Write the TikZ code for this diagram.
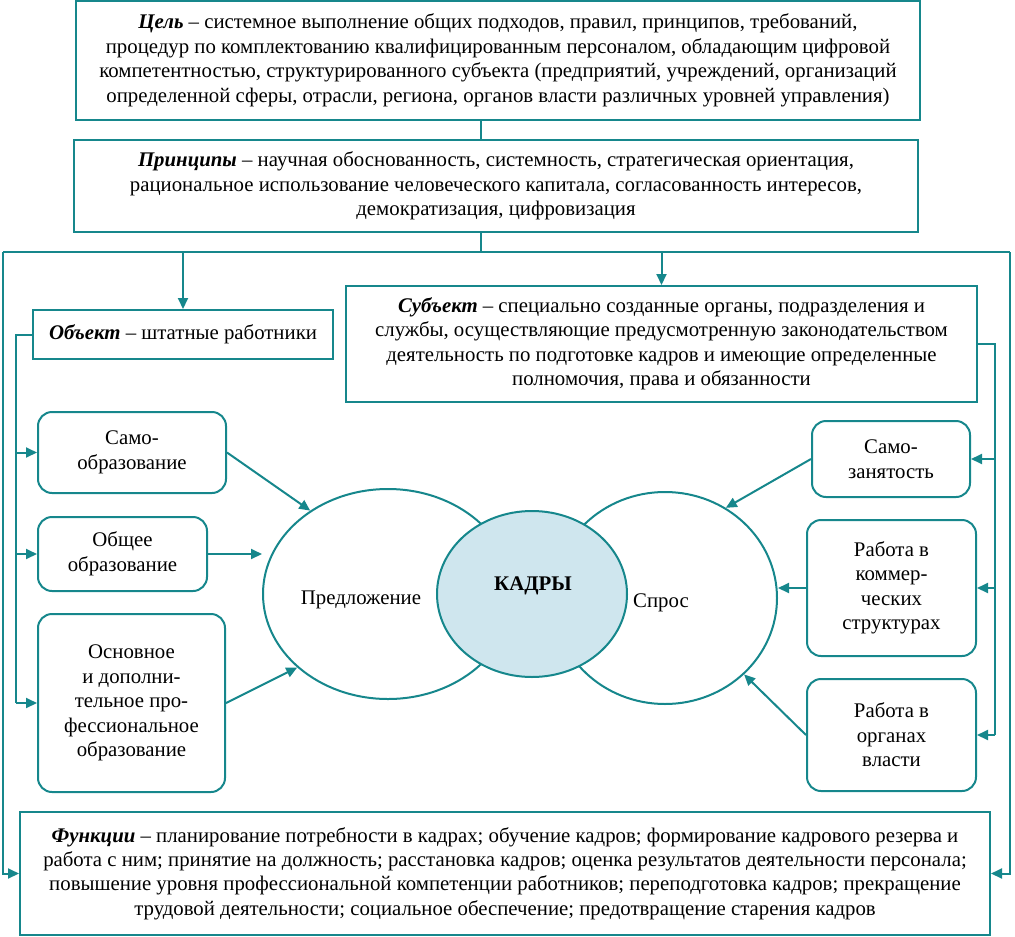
\documentclass[tikz,border=0pt]{standalone}
\usepackage{fontspec}
\setmainfont{Liberation Serif}
\usetikzlibrary{arrows.meta,shapes.geometric}
\definecolor{teal1}{RGB}{22,135,140}
\definecolor{kfill}{RGB}{207,230,238}
\begin{document}
\begin{tikzpicture}[x=1pt,y=-1pt,
 box/.style={draw=teal1,line width=2pt,rectangle,align=center,inner sep=0pt,font=\fontsize{20.8}{24.5}\selectfont},
 rbox/.style={box,rounded corners=14pt},
 ell/.style={draw=teal1,line width=2pt,ellipse,inner sep=0pt},
 conn/.style={draw=teal1,line width=2pt},
 arr/.style={conn,-{Triangle[length=11pt,width=10pt]}},
 lbl/.style={font=\fontsize{20.8}{24.5}\selectfont,inner sep=0pt}]
\useasboundingbox (0,0) rectangle (1015,937);

\node[box,minimum width=844pt,minimum height=119pt] (goal) at (498,60.5)
 {\textbf{\textit{Цель}} – системное выполнение общих подходов, правил, принципов, требований,\\
  процедур по комплектованию квалифицированным персоналом, обладающим цифровой\\
  компетентностью, структурированного субъекта (предприятий, учреждений, организаций\\
  определенной сферы, отрасли, региона, органов власти различных уровней управления)};
\node[box,minimum width=844pt,minimum height=92pt] (princ) at (496,186)
 {\textbf{\textit{Принципы}} – научная обоснованность, системность, стратегическая ориентация,\\
  рациональное использование человеческого капитала, согласованность интересов,\\
  демократизация, цифровизация};
\node[box,minimum width=300pt,minimum height=49pt] (obj) at (183,334.5)
 {\textbf{\textit{Объект}} – штатные работники};
\node[box,minimum width=631pt,minimum height=116pt] (subj) at (661.5,344)
 {\textbf{\textit{Субъект}} – специально созданные органы, подразделения и\\
  службы, осуществляющие предусмотренную законодательством\\
  деятельность по подготовке кадров и имеющие определенные\\
  полномочия, права и обязанности};
\node[rbox,minimum width=188pt,minimum height=81pt] (selfedu) at (132,452.5) {Само-\\образование};
\node[rbox,minimum width=169pt,minimum height=74pt] (genedu) at (122.5,554) {Общее\\образование};
\node[rbox,minimum width=187pt,minimum height=178pt] (profedu) at (131.5,703)
 {Основное\\и дополни-\\тельное про-\\фессиональное\\образование};
\node[rbox,minimum width=158pt,minimum height=76pt] (selfemp) at (891,459) {Само-\\занятость};
\node[rbox,minimum width=169pt,minimum height=136pt] (comm) at (891.5,588) {Работа в\\коммер-\\ческих\\структурах};
\node[rbox,minimum width=169pt,minimum height=112pt] (gov) at (891.5,735) {Работа в\\органах\\власти};
\node[box,minimum width=970pt,minimum height=123pt,font=\fontsize{20.8}{24.2}\selectfont] (func) at (505,873.5)
 {\textbf{\textit{Функции}} – планирование потребности в кадрах; обучение кадров; формирование кадрового резерва и\\
  работа с ним; принятие на должность; расстановка кадров; оценка результатов деятельности персонала;\\
  повышение уровня профессиональной компетенции работников; переподготовка кадров; прекращение\\
  трудовой деятельности; социальное обеспечение; предотвращение старения кадров};

\node[ell,fill=white,minimum width=250pt,minimum height=210pt] (sup) at (388,594) {};
\node[ell,fill=white,minimum width=224pt,minimum height=212pt] (dem) at (665,598) {};
\node[ell,fill=kfill,minimum width=190pt,minimum height=166pt] (kadry) at (532,594) {};
\node[lbl] (suptxt) at (361,600) {Предложение};
\node[lbl] (demtxt) at (661,603) {Спрос};
\node[lbl,font=\fontsize{20.8}{24.5}\selectfont\bfseries] (kadrytxt) at (533,586) {КАДРЫ};

\coordinate (tl) at (3,252);
\coordinate (tr) at (1010,252);
\coordinate (vx) at (481,0);
\coordinate (lb) at (16,0);
\coordinate (rb) at (995,0);

\draw[conn] (goal.south -| vx) -- (princ.north -| vx);
\draw[conn] (princ.south -| vx) -- (tl -| vx);
\draw[conn] (tl) -- (tr);
\draw[arr] (tl) -- (tl |- func.west) -- (func.west);
\draw[arr] (tr) -- (tr |- func.east) -- (func.east);
\draw[arr] (obj.north |- tl) -- (obj.north);
\draw[arr] (subj.north |- tl) -- (subj.north);

\draw[conn] (obj.west) -| (lb |- profedu.west);
\draw[arr] (lb |- selfedu.west) -- (selfedu.west);
\draw[arr] (lb |- genedu.west) -- (genedu.west);
\draw[arr] (lb |- profedu.west) -- (profedu.west);

\draw[conn] (subj.east) -| (rb |- gov.east);
\draw[arr] (rb |- selfemp.east) -- (selfemp.east);
\draw[arr] (rb |- comm.east) -- (comm.east);
\draw[arr] (rb |- gov.east) -- (gov.east);

\draw[arr] (selfedu.east) -- (sup.133);
\draw[arr] (genedu.east) -- (genedu.east -| sup.west);
\draw[arr] (profedu.east) -- (sup.219);
\draw[arr] (selfemp.west) -- (dem.56);
\draw[arr] (comm.west) -- (comm.west -| dem.east);
\draw[arr] (gov.west) -- (dem.316);
\end{tikzpicture}
\end{document}
